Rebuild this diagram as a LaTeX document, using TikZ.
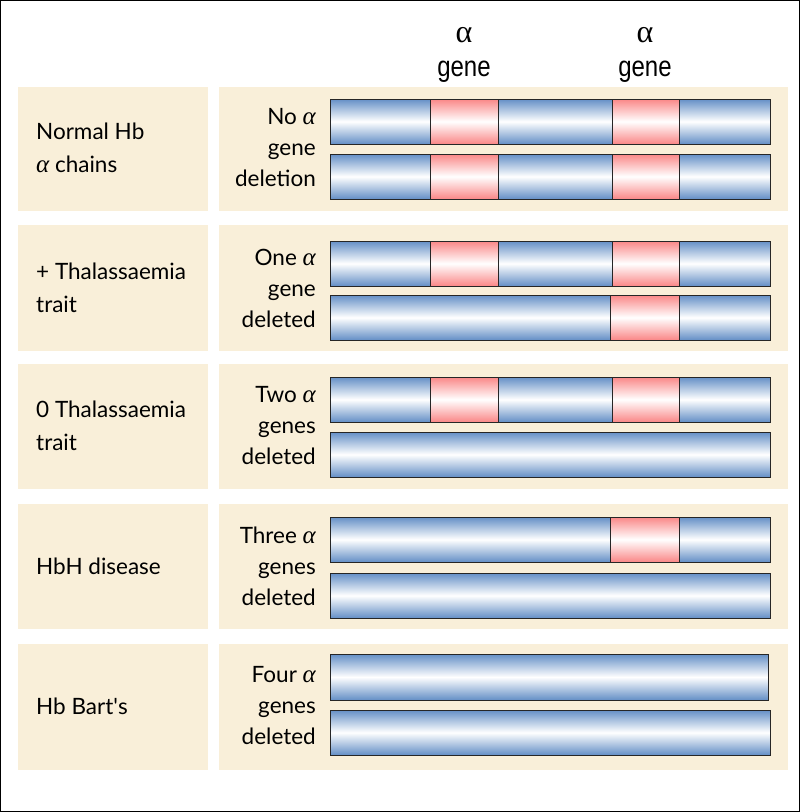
\documentclass[tikz,border=0pt]{standalone}
\usepackage{fontspec}
\setmainfont{Lato}
\newfontfamily\genefont{Liberation Sans}
\newfontfamily\greekfont{Liberation Serif}
\newcommand{\alf}{{\greekfont\itshape\fontsize{25}{25}\selectfont α}}
\definecolor{panel}{RGB}{249,239,217}
\definecolor{chromblue}{RGB}{100,143,198}
\definecolor{genered}{RGB}{250,135,135}
\begin{document}
\begin{tikzpicture}[x=1pt,y=-1pt,
    panel box/.style={fill=panel},
    blue seg/.style={draw=black!85,line width=0.9pt,top color=chromblue,bottom color=chromblue,middle color=white},
    red seg/.style={draw=black!85,line width=0.9pt,top color=genered,bottom color=genered,middle color=white},
    row label/.style={anchor=west,align=left,inner sep=0pt,font=\fontsize{22.5}{33}\selectfont},
    del label/.style={anchor=east,align=right,inner sep=0pt,font=\fontsize{22.5}{31}\selectfont},
    gene label/.style={align=center,inner sep=0pt}]
  \useasboundingbox (0,0) rectangle (800,812);
  \draw[line width=1.2pt] (0.6,0.6) rectangle (799.4,811.4);
  % panels
  \foreach \y/\h in {87/124, 225/126, 364/125, 504/125, 644/126} {
    \fill[panel box] (18,\y) rectangle (208,\y+\h);
    \fill[panel box] (219,\y) rectangle (788,\y+\h);
  }
  % gene headings
  \node[gene label] (alphaA) at (464,35) {\greekfont\fontsize{32}{32}\selectfont α};
  \node[gene label,anchor=base] (geneA) at (464,76) {\scalebox{1}[1.2]{\genefont\fontsize{24}{24}\selectfont gene}};
  \node[gene label] (alphaB) at (645,35) {\greekfont\fontsize{32}{32}\selectfont α};
  \node[gene label,anchor=base] (geneB) at (645,76) {\scalebox{1}[1.2]{\genefont\fontsize{24}{24}\selectfont gene}};
  % row labels
  \node[row label] (normal) at (36,148) {Normal Hb\\\alf\ chains};
  \node[row label] (plus) at (36,288) {+ Thalassaemia\\trait};
  \node[row label] (zero) at (36,426) {0 Thalassaemia\\trait};
  \node[row label] (hbh) at (36,566) {HbH disease};
  \node[row label] (bart) at (36,706) {Hb Bart\textquotesingle s};
  \node[del label] (nodel) at (316,148) {No \alf\\gene\\deletion};
  \node[del label] (onedel) at (316,288) {One \alf\\gene\\deleted};
  \node[del label] (twodel) at (316,426) {Two \alf\\genes\\deleted};
  \node[del label] (threedel) at (316,566) {Three \alf\\genes\\deleted};
  \node[del label] (fourdel) at (316,706) {Four \alf\\genes\\deleted};
  % chromosomes with both genes
  \foreach \t in {99,154,241,377} {
    \path[blue seg] (330,\t) rectangle (430,\t+45);
    \path[red seg] (430,\t) rectangle (498,\t+45);
    \path[blue seg] (498,\t) rectangle (612,\t+45);
    \path[red seg] (612,\t) rectangle (679,\t+45);
    \path[blue seg] (679,\t) rectangle (770,\t+45);
  }
  % chromosomes with one gene
  \foreach \t in {295,517} {
    \path[blue seg] (330,\t) rectangle (610,\t+45);
    \path[red seg] (610,\t) rectangle (679,\t+45);
    \path[blue seg] (679,\t) rectangle (770,\t+45);
  }
  % chromosomes with no gene
  \foreach \t in {432,573,710} {
    \path[blue seg] (330,\t) rectangle (770,\t+45);
  }
  \path[blue seg] (330,654) rectangle (768,700);
\end{tikzpicture}
\end{document}
